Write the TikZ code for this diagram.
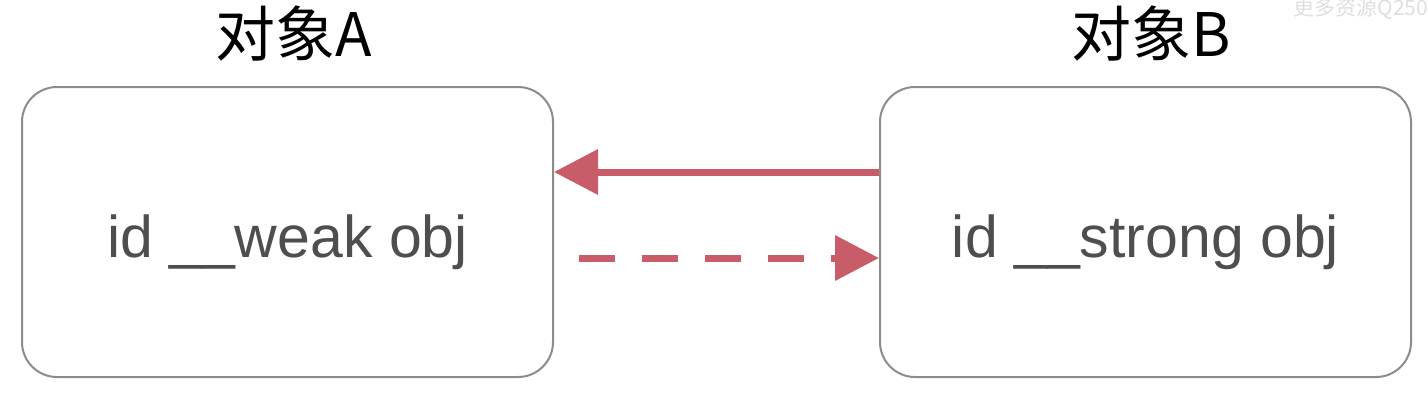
\documentclass[tikz,border=0pt]{standalone}
\usepackage{fontspec}
\setmainfont{Liberation Sans}
\newfontfamily\cjk{Noto Sans CJK SC}
\usetikzlibrary{positioning, arrows.meta}
\definecolor{linkred}{RGB}{200,92,104}
\definecolor{boxgray}{RGB}{140,140,140}
\definecolor{txtgray}{RGB}{78,78,78}

\begin{document}
\begin{tikzpicture}[>={Triangle[length=22pt,width=22pt]},node distance=162.5pt,
  obj/.style={draw=boxgray,line width=1pt,rounded corners=17.5pt,minimum width=265.5pt,minimum height=145pt,
    text=txtgray,text height=31pt,text depth=6pt,font=\fontsize{29.5}{32}\selectfont},
  objtitle/.style={inner sep=0pt,font=\cjk\fontsize{30}{33}\selectfont},
  link/.style={draw=linkred,line width=3.5pt}]
  \useasboundingbox (0,0) rectangle (714pt,-202pt);
  \node[obj] (A) at (143.75pt,-116pt) {id \_\_weak obj};
  \node[obj, right=of A] (B) {id \_\_strong obj};
  \node[objtitle, above=15pt of A, anchor=base, xshift=3pt] (tA) {对象A};
  \node[objtitle, above=15pt of B, anchor=base, xshift=3pt] (tB) {对象B};
  % watermark, cut off at the right edge
  \node[anchor=west,inner sep=0pt,text=black!13,font=\cjk\fontsize{10.5}{12}\selectfont] (wm) at (646.5pt,-4.5pt) {更多资源Q250};

  \draw ([yshift=30pt]B.west) edge[link,->] ([yshift=30pt]A.east)
        ([xshift=12.5pt,yshift=-13pt]A.east) edge[link,->,dash pattern=on 18pt off 13.5pt] ([yshift=-13pt]B.west);
\end{tikzpicture}
\end{document}
